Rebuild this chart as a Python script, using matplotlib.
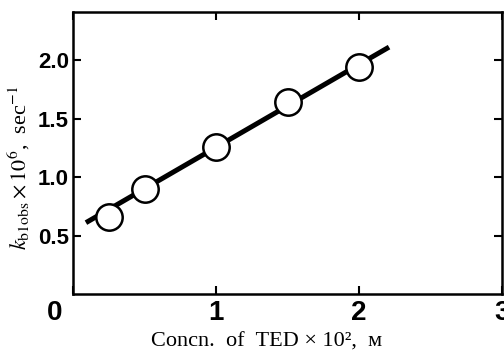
import matplotlib
matplotlib.use("Agg")
import matplotlib.pyplot as plt
from matplotlib import font_manager
from matplotlib.transforms import ScaledTranslation

conc = [0.25, 0.5, 1.0, 1.5, 2.0]
kobs = [0.66, 0.90, 1.26, 1.64, 1.94]
fit_x = [0.09, 2.21]
fit_y = [0.61, 2.11]
xticks = [0, 1, 2, 3]
yticks = [0.5, 1.0, 1.5, 2.0]

plt.rcParams['mathtext.fontset'] = 'stix'
names = {f.name for f in font_manager.fontManager.ttflist}
tickfont = 'Liberation Sans Narrow' if 'Liberation Sans Narrow' in names else 'Liberation Sans'

fig = plt.figure(figsize=(5.04, 3.53), dpi=100)
ax = fig.add_axes([0.145, 0.167, 0.851, 0.799])
ax.plot(fit_x, fit_y, color='black', lw=3.6, solid_capstyle='butt', zorder=2)
ax.plot(conc, kobs, 'o', ms=19, mfc='white', mec='black', mew=1.8, zorder=3)

ax.set_xlim(0, 3)
ax.set_ylim(0, 2.41)
ax.set_xticks(xticks)
ax.set_yticks(yticks)
ax.set_xticklabels([str(t) for t in xticks], fontfamily=tickfont, fontweight='bold', fontsize=20)
ax.set_yticklabels([f"{t:.1f}" for t in yticks], fontfamily=tickfont, fontweight='bold', fontsize=16)
ax.tick_params(direction='in', length=6, width=1.5, top=True, right=True)
ax.tick_params(axis='y', pad=3)
ax.tick_params(axis='x', pad=4)
for s in ax.spines.values():
    s.set_linewidth(1.8)

lbl0 = ax.get_xticklabels()[0]
lbl0.set_transform(lbl0.get_transform() + ScaledTranslation(-0.18, 0, fig.dpi_scale_trans))

ax.set_xlabel("Concn.  of  TED \u00d7 10\u00b2,  \u043c", fontfamily='Liberation Serif', fontsize=16)
ax.xaxis.set_label_coords((267 - 73) / 429, -0.135)
ax.set_ylabel(r"$k_{\mathrm{b1obs}} \times 10^{6}$,  sec$^{-1}$", fontfamily='Liberation Serif', fontsize=16)
ax.yaxis.set_label_coords(-0.095, 0.447)

fig.savefig("out.png", dpi=100)
